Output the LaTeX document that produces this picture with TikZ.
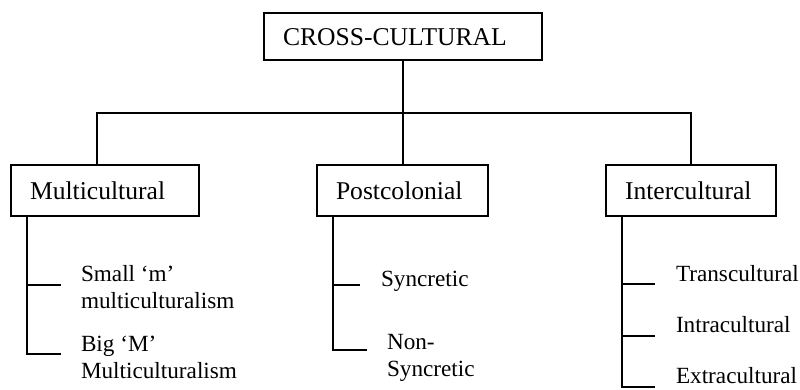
\documentclass[tikz,border=0pt]{standalone}
\usepackage{fontspec}
\setmainfont{Liberation Serif}
\usepackage{tikz}

\tikzset{
  catbox/.style={draw, inner xsep=19pt, inner ysep=0pt, align=left,
    text height=17pt, text depth=0pt, minimum height=51pt},
  leaf/.style={inner sep=0pt, anchor=west, align=left,
    font=\fontsize{23.2}{27}\selectfont}
}

\begin{document}
\begin{tikzpicture}[x=1pt,y=-1pt,line width=2pt,font=\fontsize{25.6}{27}\selectfont]
\useasboundingbox (0,0) rectangle (800,389);
% boxes
\node[catbox,text width=240pt,minimum height=47pt] (cross) at (403,36.5) {CROSS-CULTURAL};
\node[catbox,text width=150pt] (multi) at (105,190.5) {Multicultural};
\node[catbox,text width=133pt] (post) at (402.5,190.5) {Postcolonial};
\node[catbox,text width=132pt] (inter) at (691,190.5) {Intercultural};
% top connectors
\coordinate (bar) at (0,113);
\draw (cross.south) -- (cross.south |- post.north);
\draw ([xshift=-8pt]multi.north) |- (bar -| inter.north) -- (inter.north);
% leaves
\node[leaf] (small) at (80,287.5) {Small `m'\\multiculturalism};
\node[leaf] (big) at (80,357.5) {Big `M'\\Multiculturalism};
\node[leaf] (sync) at (380,281.5) {Syncretic};
\node[leaf] (nonsync) at (386,358) {Non-\\Syncretic};
\node[leaf] (trans) at (675,274) {Transcultural};
\node[leaf] (intra) at (675,325) {Intracultural};
\node[leaf] (extra) at (675,376) {Extracultural};
% spines and ticks
\coordinate (mroot) at ([xshift=17pt]multi.south west);
\coordinate (proot) at ([xshift=17pt]post.south west);
\coordinate (iroot) at ([xshift=17pt]inter.south west);
\coordinate (m1) at (61,285);
\coordinate (m2) at (61,354);
\coordinate (p1) at (360,285);
\coordinate (p2) at (367,350);
\coordinate (i1) at (655,284);
\coordinate (i2) at (655,336);
\coordinate (i3) at (655,387);
\draw (mroot) |- (m2) (mroot |- m1) -- (m1);
\draw (proot) |- (p2) (proot |- p1) -- (p1);
\draw (iroot) |- (i3) (iroot |- i1) -- (i1) (iroot |- i2) -- (i2);
\end{tikzpicture}
\end{document}
